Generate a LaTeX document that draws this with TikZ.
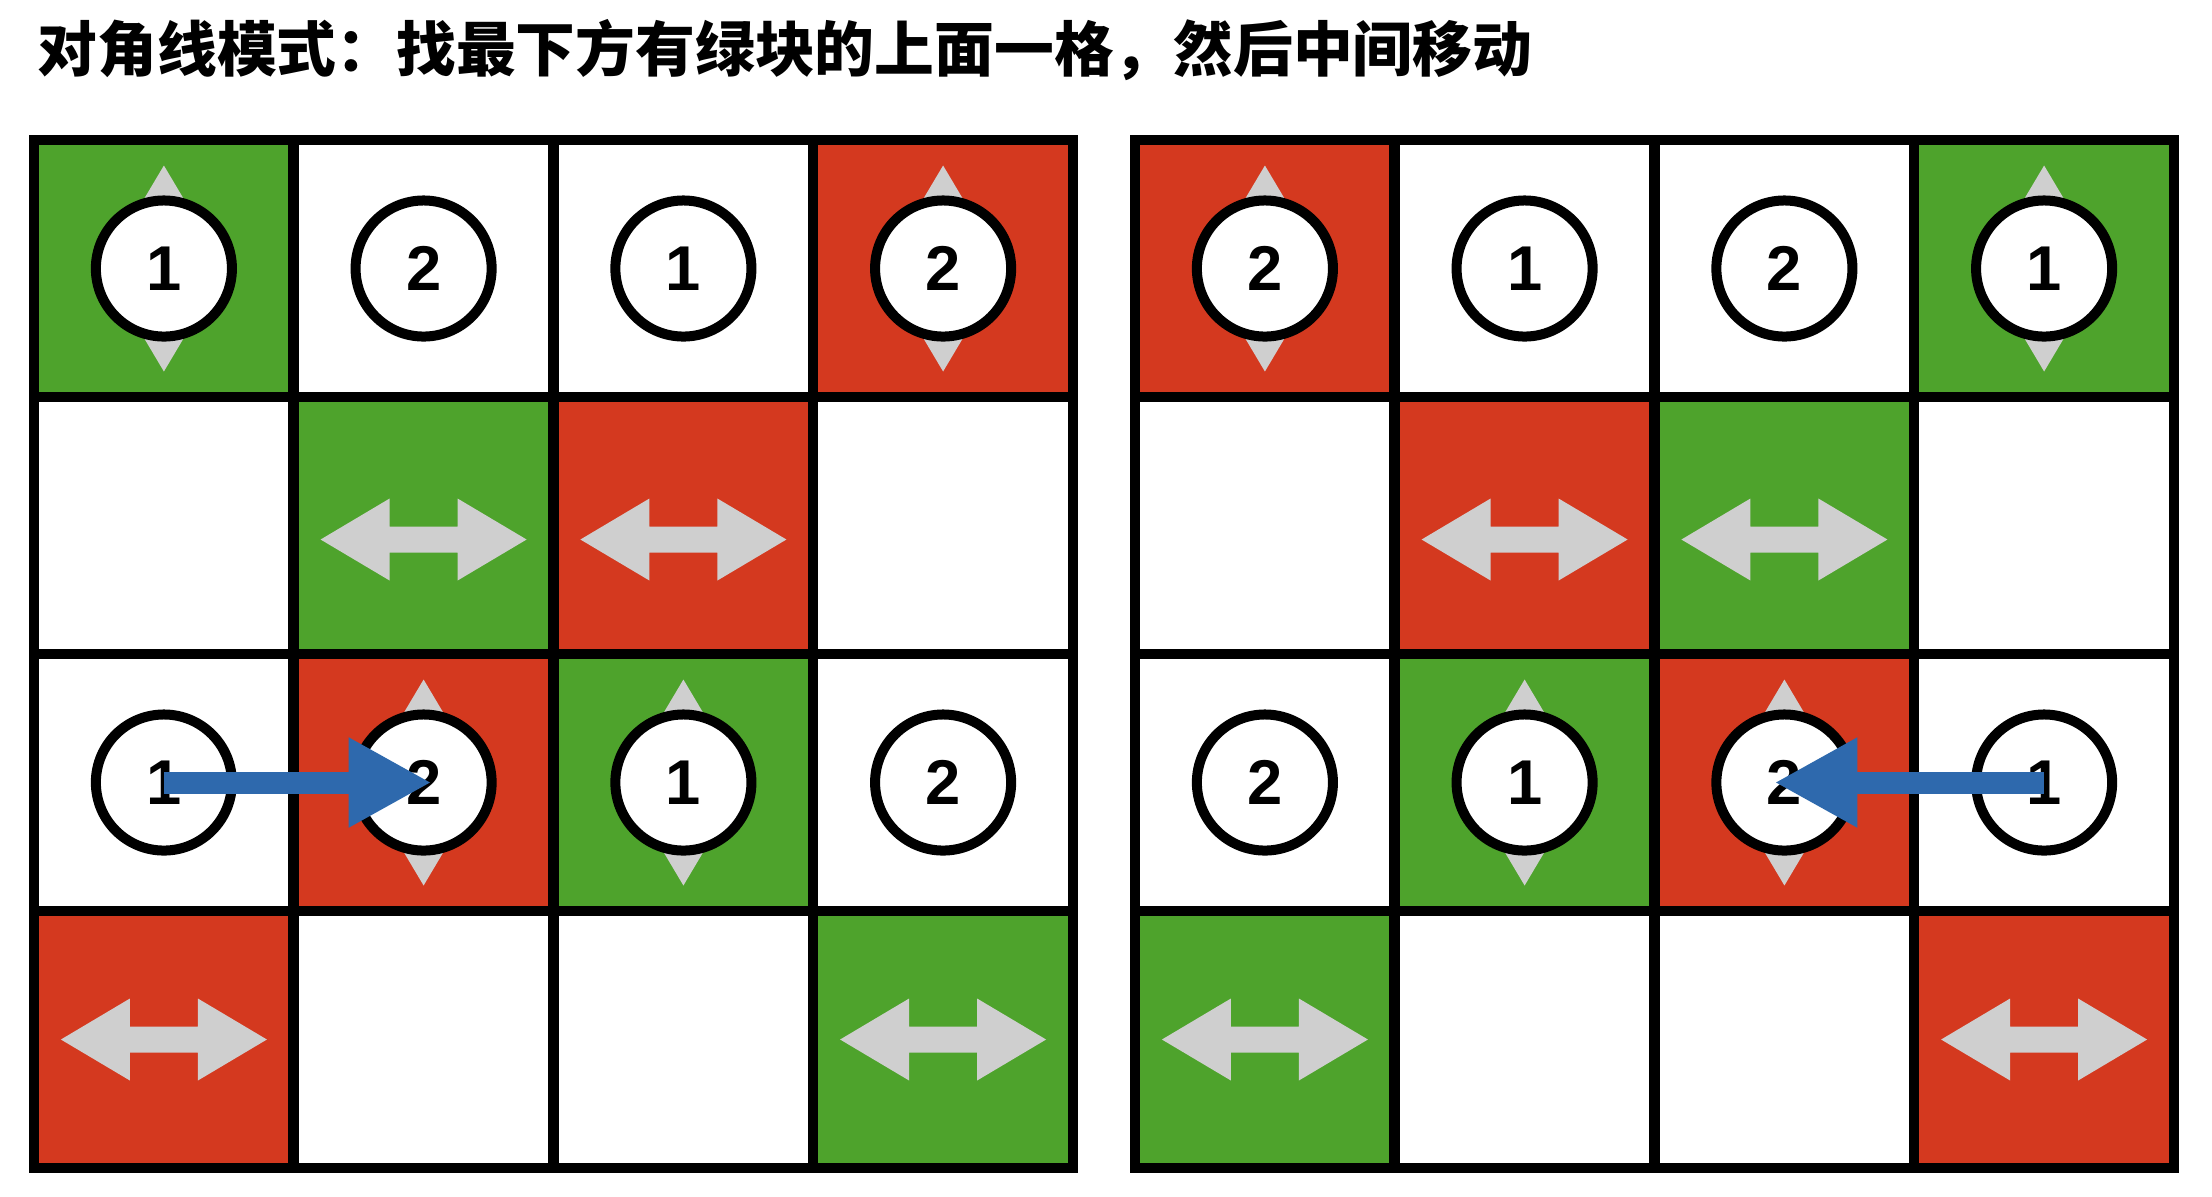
\documentclass[tikz,border=0pt]{standalone}
\usepackage{fontspec}
\setmainfont{Liberation Sans}
\newfontfamily\cjkfont{Noto Sans CJK SC}
\usetikzlibrary{arrows.meta,positioning}
\definecolor{boxgreen}{HTML}{4EA32C}
\definecolor{boxred}{HTML}{D4391F}
\definecolor{arrowgray}{HTML}{CFCFCF}
\definecolor{moveblue}{HTML}{2E69AD}
\tikzset{
  cell/.style={draw=black, fill=white, line width=0.105cm, minimum width=2.5975cm, minimum height=2.57cm, inner sep=0pt, outer sep=0pt},
  token/.style={circle, draw=black, fill=white, line width=0.10cm, minimum size=1.36cm, inner sep=0pt, font=\fontsize{18}{18}\selectfont\bfseries},
  move/.style={draw=moveblue, line width=0.22cm, -{Triangle[length=0.83cm,width=0.84cm]}},
  swap/.pic={\fill[arrowgray] (-103,0) -- (-34,-41) -- (-34,-13) -- (34,-13) -- (34,-41) -- (103,0) -- (34,41) -- (34,13) -- (-34,13) -- (-34,41) -- cycle;}
}
\begin{document}
\begin{tikzpicture}[x=0.01cm, y=-0.01cm]
\useasboundingbox (0,0) rectangle (2212,1196);
% Title
\node[anchor=west, inner sep=0pt, font=\cjkfont\bfseries\fontsize{17}{17}\selectfont] (title) at (37,50) {对角线模式：找最下方有绿块的上面一格，然后中间移动};

% Left board
\node[cell, fill=boxgreen] (a11) at (163.9,268.5) {};
\node[cell] (a12) at (423.6,268.5) {};
\node[cell] (a13) at (683.4,268.5) {};
\node[cell, fill=boxred] (a14) at (943.1,268.5) {};
\node[cell] (a21) at (163.9,525.5) {};
\node[cell, fill=boxgreen] (a22) at (423.6,525.5) {};
\node[cell, fill=boxred] (a23) at (683.4,525.5) {};
\node[cell] (a24) at (943.1,525.5) {};
\node[cell] (a31) at (163.9,782.5) {};
\node[cell, fill=boxred] (a32) at (423.6,782.5) {};
\node[cell, fill=boxgreen] (a33) at (683.4,782.5) {};
\node[cell] (a34) at (943.1,782.5) {};
\node[cell, fill=boxred] (a41) at (163.9,1039.5) {};
\node[cell] (a42) at (423.6,1039.5) {};
\node[cell] (a43) at (683.4,1039.5) {};
\node[cell, fill=boxgreen] (a44) at (943.1,1039.5) {};

% Right board
\node[cell, fill=boxred] (b11) at (1264.9,268.5) {};
\node[cell] (b12) at (1524.6,268.5) {};
\node[cell] (b13) at (1784.4,268.5) {};
\node[cell, fill=boxgreen] (b14) at (2044.1,268.5) {};
\node[cell] (b21) at (1264.9,525.5) {};
\node[cell, fill=boxred] (b22) at (1524.6,525.5) {};
\node[cell, fill=boxgreen] (b23) at (1784.4,525.5) {};
\node[cell] (b24) at (2044.1,525.5) {};
\node[cell] (b31) at (1264.9,782.5) {};
\node[cell, fill=boxgreen] (b32) at (1524.6,782.5) {};
\node[cell, fill=boxred] (b33) at (1784.4,782.5) {};
\node[cell] (b34) at (2044.1,782.5) {};
\node[cell, fill=boxgreen] (b41) at (1264.9,1039.5) {};
\node[cell] (b42) at (1524.6,1039.5) {};
\node[cell] (b43) at (1784.4,1039.5) {};
\node[cell, fill=boxred] (b44) at (2044.1,1039.5) {};

% Swap hints
\pic[rotate=90] at (a11) {swap};
\pic[rotate=90] at (a14) {swap};
\pic at ([yshift=-0.14cm]a22.center) {swap};
\pic at ([yshift=-0.14cm]a23.center) {swap};
\pic[rotate=90] at (a32) {swap};
\pic[rotate=90] at (a33) {swap};
\pic at (a41) {swap};
\pic at (a44) {swap};
\pic[rotate=90] at (b11) {swap};
\pic[rotate=90] at (b14) {swap};
\pic at ([yshift=-0.14cm]b22.center) {swap};
\pic at ([yshift=-0.14cm]b23.center) {swap};
\pic[rotate=90] at (b32) {swap};
\pic[rotate=90] at (b33) {swap};
\pic at (b41) {swap};
\pic at (b44) {swap};

% Tokens
\node[token] (ta11) at (a11) {1};
\node[token] (ta12) at (a12) {2};
\node[token] (ta13) at (a13) {1};
\node[token] (ta14) at (a14) {2};
\node[token] (ta31) at (a31) {1};
\node[token] (ta32) at (a32) {2};
\node[token] (ta33) at (a33) {1};
\node[token] (ta34) at (a34) {2};
\node[token] (tb11) at (b11) {2};
\node[token] (tb12) at (b12) {1};
\node[token] (tb13) at (b13) {2};
\node[token] (tb14) at (b14) {1};
\node[token] (tb31) at (b31) {2};
\node[token] (tb32) at (b32) {1};
\node[token] (tb33) at (b33) {2};
\node[token] (tb34) at (b34) {1};

% Moves
\draw[move] (ta31.center) -- ([xshift=0.08cm]ta32.center);
\draw[move] (tb34.center) -- ([xshift=-0.1cm]tb33.center);
\end{tikzpicture}
\end{document}
